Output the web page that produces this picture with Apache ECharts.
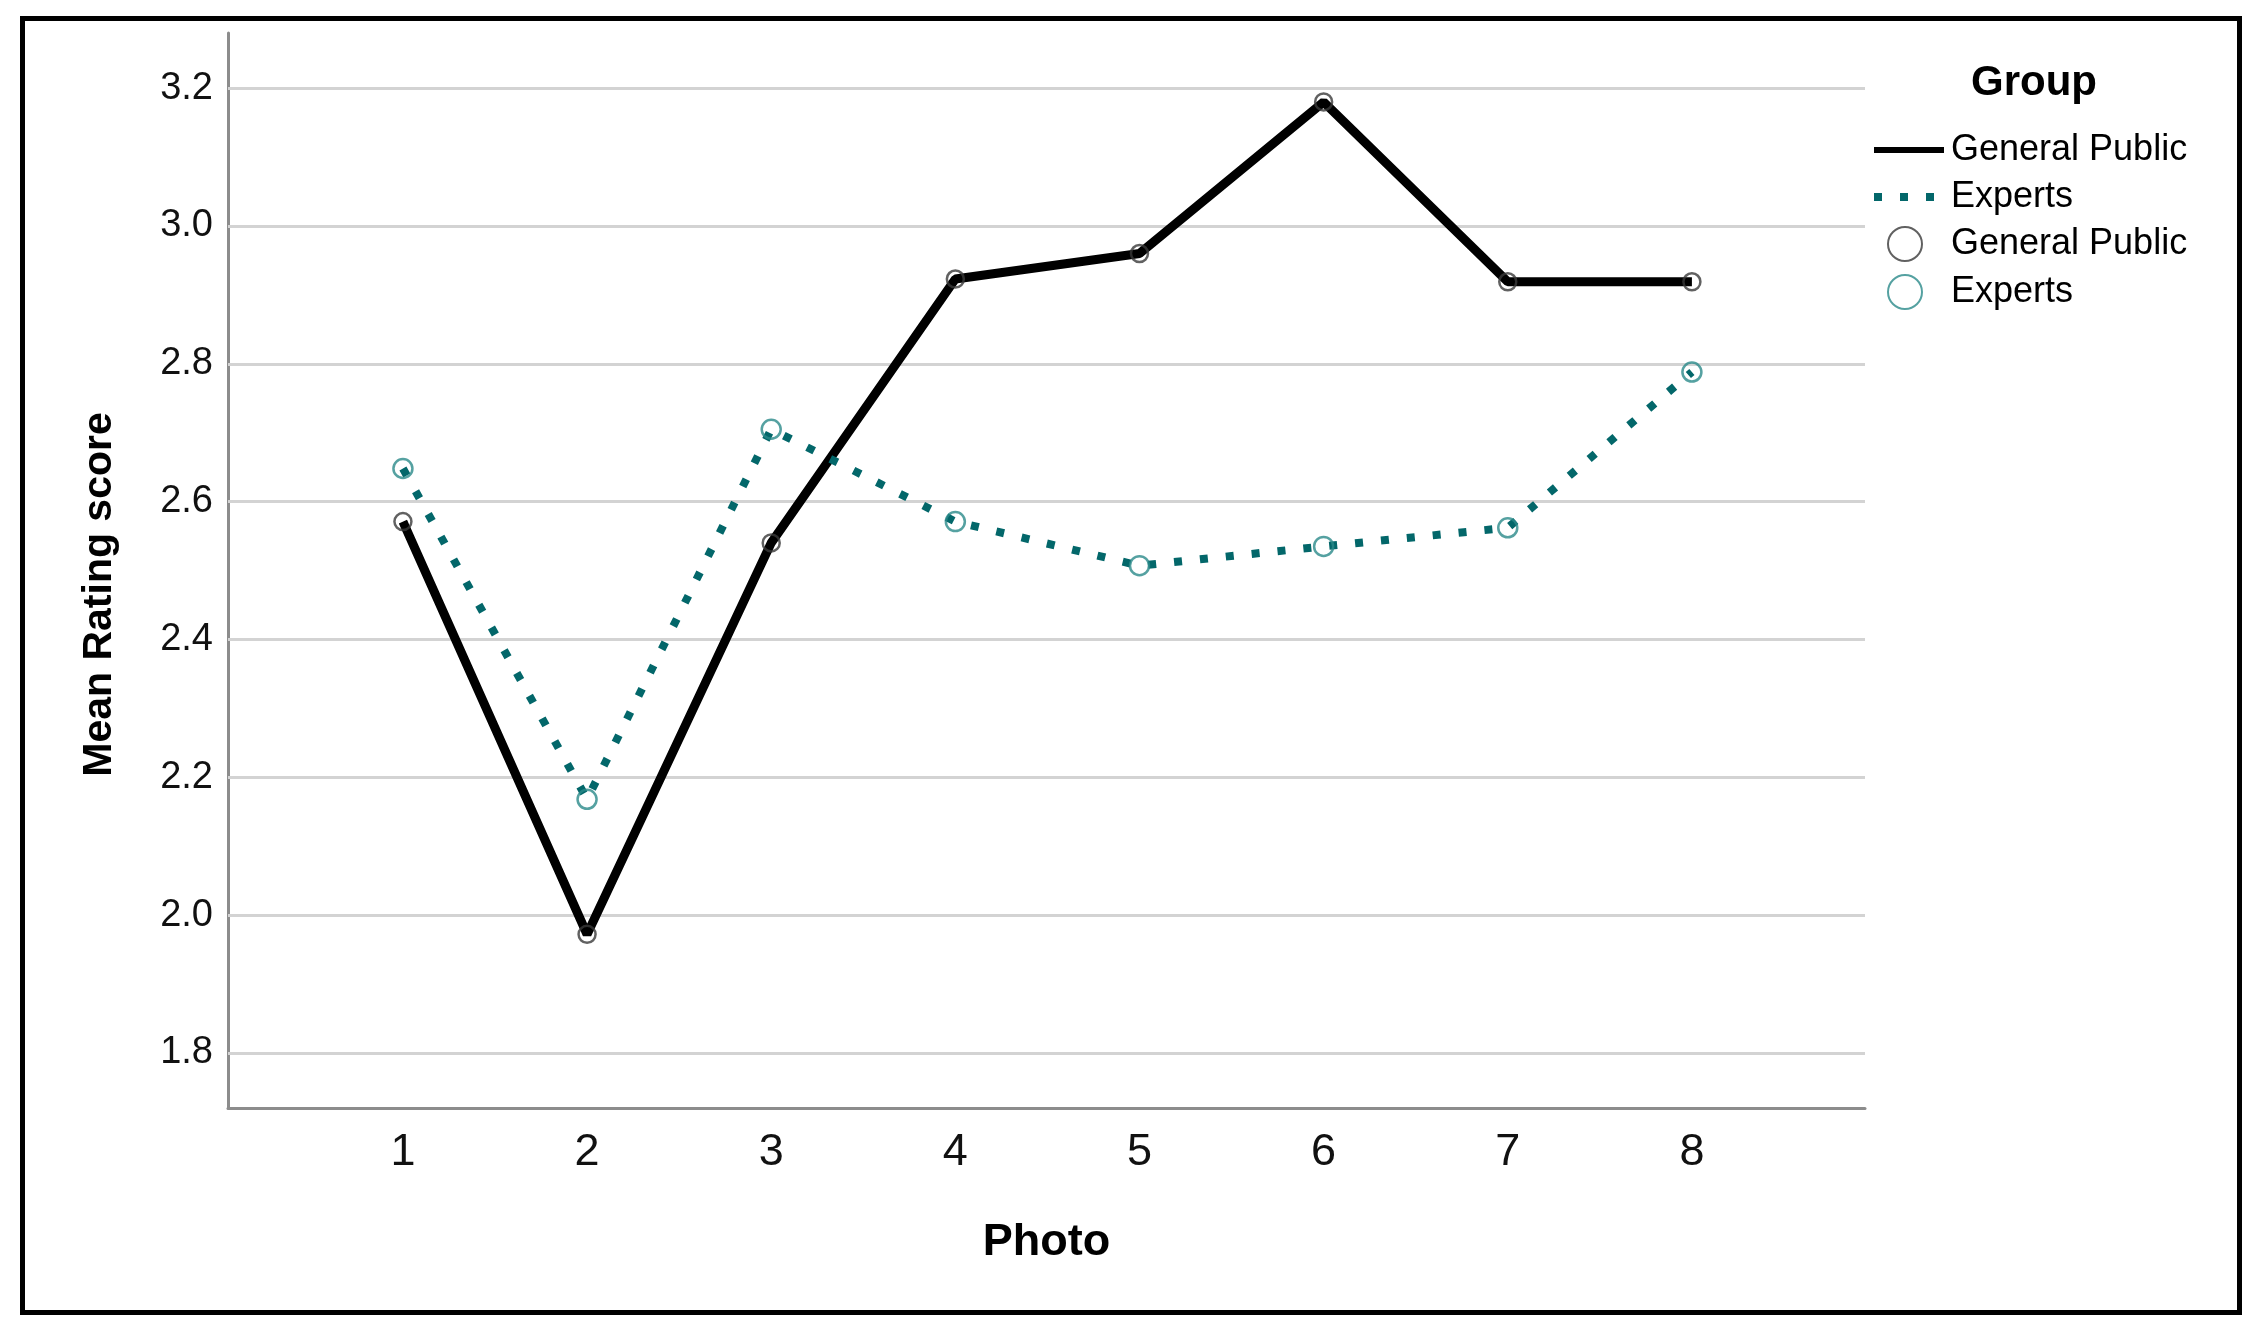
<!DOCTYPE html>
<html>
<head>
<meta charset="utf-8">
<script src="https://cdn.jsdelivr.net/npm/echarts@6/dist/echarts.min.js"></script>
<style>
  html, body { margin: 0; padding: 0; background: #fff; }
  #chart { width: 2264px; height: 1343px; }
</style>
</head>
<body>
<div id="chart"></div>
<script>
// values
const photos = [1, 2, 3, 4, 5, 6, 7, 8];
const generalPublic = [2.571, 1.972, 2.540, 2.923, 2.960, 3.180, 2.919, 2.919];
const experts = [2.648, 2.168, 2.705, 2.571, 2.507, 2.535, 2.562, 2.788];
const yTicks = [1.8, 2.0, 2.2, 2.4, 2.6, 2.8, 3.0, 3.2];
const groups = ['General Public', 'Experts'];

const FONT = '"Liberation Sans", Arial, sans-serif';
const TEAL = '#03676a';
const TEAL_MARK = '#2b8a8a';

// series names must be unique, legend shows the group label
const labelOf = {
  gpLine: groups[0], exLine: groups[1],
  gpMark: groups[0], exMark: groups[1]
};

function pairs(values) {
  return photos.map((p, i) => [p, values[i]]);
}

const chart = echarts.init(document.getElementById('chart'), null, { renderer: 'canvas' });

chart.setOption({
  animation: false,
  backgroundColor: '#fff',
  textStyle: { fontFamily: FONT },
  grid: { left: 228, right: 399, top: 33, bottom: 235, containLabel: false },
  title: {
    text: 'Group',
    left: 1966,
    top: 57,
    textStyle: { fontFamily: FONT, fontSize: 42, fontWeight: 'bold', color: '#000' }
  },
  legend: [
    {
      data: [
        { name: 'gpLine', itemStyle: { opacity: 0 }, lineStyle: { width: 6 } },
        { name: 'exLine', itemStyle: { opacity: 0 } }
      ],
      orient: 'vertical',
      left: 1870,
      top: 130,
      padding: 0,
      itemWidth: 70,
      itemHeight: 12,
      itemGap: 7,
      selectedMode: false,
      lineStyle: { width: 'inherit' },
      formatter: name => labelOf[name],
      textStyle: { fontFamily: FONT, fontSize: 36, color: '#000', lineHeight: 40, padding: [0, 0, 0, 2] }
    },
    {
      data: ['gpMark', 'exMark'],
      orient: 'vertical',
      left: 1887,
      top: 224,
      padding: 0,
      itemWidth: 70,
      itemHeight: 34,
      itemGap: 8,
      selectedMode: false,
      formatter: name => labelOf[name],
      textStyle: { fontFamily: FONT, fontSize: 36, color: '#000', lineHeight: 40, padding: [0, 0, 0, 6] }
    }
  ],
  xAxis: {
    type: 'value',
    min: 0.05,
    max: 8.94,
    name: 'Photo',
    nameLocation: 'middle',
    nameGap: 112,
    nameTextStyle: { fontFamily: FONT, fontSize: 45, fontWeight: 'bold', color: '#000' },
    axisLine: { lineStyle: { color: '#8c8c8c', width: 3 } },
    axisTick: { show: false },
    splitLine: { show: false },
    axisLabel: {
      customValues: photos,
      formatter: v => String(v),
      margin: 22,
      fontFamily: FONT,
      fontSize: 45,
      color: '#111'
    }
  },
  yAxis: {
    type: 'value',
    min: 1.72,
    max: 3.28,
    name: 'Mean Rating score',
    nameLocation: 'middle',
    nameGap: 108,
    nameTextStyle: { fontFamily: FONT, fontSize: 41, fontWeight: 'bold', color: '#000', padding: [0, 48, 0, 0] },
    axisLine: { show: true, lineStyle: { color: '#8c8c8c', width: 3 } },
    axisTick: { show: false },
    splitLine: { show: false },
    axisLabel: {
      customValues: yTicks,
      formatter: v => v.toFixed(1),
      margin: 15,
      fontFamily: FONT,
      fontSize: 38,
      color: '#111'
    }
  },
  series: [
    {
      name: 'gpLine',
      type: 'line',
      data: pairs(generalPublic),
      symbol: 'none',
      z: 3,
      lineStyle: { color: '#000', width: 9 },
      itemStyle: { color: '#000' },
      // grid lines at the tick values
      markLine: {
        silent: true,
        z: 1,
        symbol: ['none', 'none'],
        label: { show: false },
        lineStyle: { color: '#d3d3d3', width: 3, type: 'solid' },
        data: yTicks.map(v => ({ yAxis: v }))
      }
    },
    {
      name: 'exLine',
      type: 'line',
      data: pairs(experts),
      symbol: 'none',
      z: 3,
      lineStyle: { color: TEAL, width: 8, type: [8, 18], cap: 'butt' },
      itemStyle: { color: TEAL }
    },
    {
      name: 'gpMark',
      type: 'scatter',
      data: pairs(generalPublic),
      symbol: 'circle',
      symbolSize: 17,
      z: 4,
      itemStyle: { color: 'rgba(255,255,255,0)', borderColor: '#3a3a3a', borderWidth: 2.5 }
    },
    {
      name: 'exMark',
      type: 'scatter',
      data: pairs(experts),
      symbol: 'circle',
      symbolSize: 19,
      z: 4,
      itemStyle: { color: 'rgba(255,255,255,0)', borderColor: TEAL_MARK, borderWidth: 2.5 }
    }
  ],
  graphic: [
    {
      type: 'rect',
      silent: true,
      shape: { x: 22.5, y: 18.5, width: 2217, height: 1294 },
      style: { fill: 'none', stroke: '#000', lineWidth: 5 }
    }
  ]
});
</script>
</body>
</html>
